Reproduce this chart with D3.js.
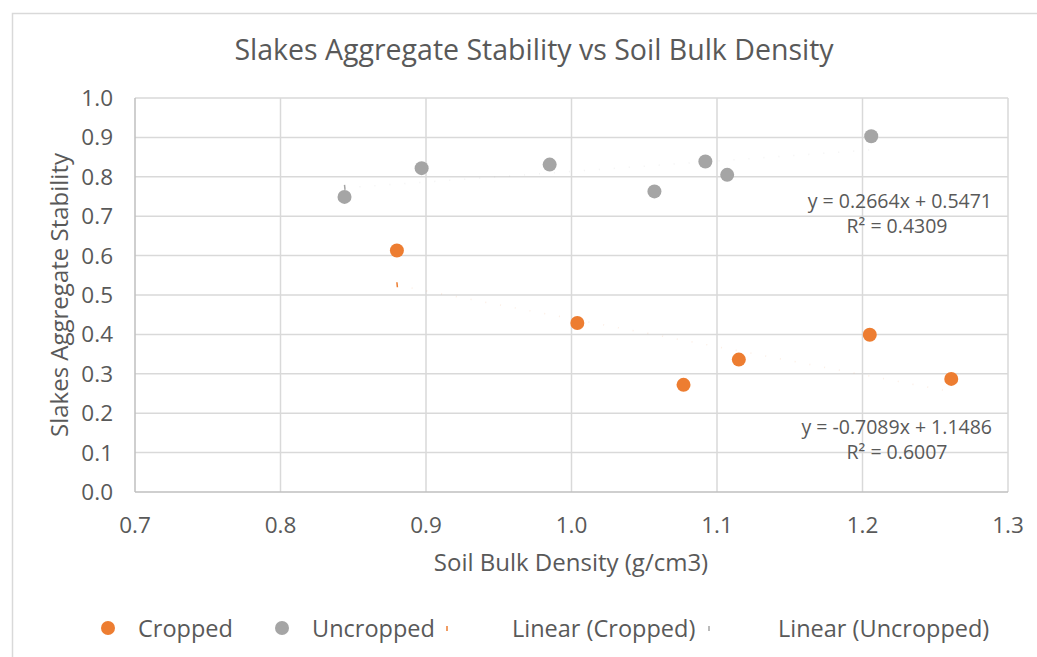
<!DOCTYPE html>
<html><head><meta charset="utf-8">
<script src="https://cdn.jsdelivr.net/npm/d3@7"></script>
<style>body{margin:0;background:#fff}svg text{font-family:"Open Sans",sans-serif;fill:#595959}</style>
</head><body><svg id="c" width="1037" height="657"></svg>
<script>
const croppedX = [0.880, 1.004, 1.077, 1.115, 1.205, 1.261];
const croppedY = [0.613, 0.429, 0.272, 0.336, 0.399, 0.287];
const uncroppedX = [0.844, 0.897, 0.985, 1.057, 1.092, 1.107, 1.206];
const uncroppedY = [0.749, 0.822, 0.831, 0.763, 0.839, 0.805, 0.903];
const xTicks = [0.7, 0.8, 0.9, 1.0, 1.1, 1.2, 1.3];
const yTicks = [0.0, 0.1, 0.2, 0.3, 0.4, 0.5, 0.6, 0.7, 0.8, 0.9, 1.0];
const trendCropped = {m: -0.7089, b: 1.1486, r2: 0.6007};
const trendUncropped = {m: 0.2664, b: 0.5471, r2: 0.4309};
const seriesNames = ["Cropped", "Uncropped", "Linear (Cropped)", "Linear (Uncropped)"];
const colors = {c: "#ed7d31", u: "#a5a5a5"};

const svg = d3.select("#c");
svg.append("rect").attr("x",12.5).attr("y",13.5).attr("width",1030).attr("height",650)
  .attr("fill","none").attr("stroke","#d9d9d9").attr("stroke-width",1.5);

const x = d3.scaleLinear().domain([0.7,1.3]).range([135,1008]);
const y = d3.scaleLinear().domain([0,1]).range([492,98]);

// gridlines
svg.append("g").selectAll("line").data(yTicks.slice(1)).join("line")
  .attr("x1",x(0.7)).attr("x2",x(1.3)).attr("y1",d=>y(d)).attr("y2",d=>y(d))
  .attr("stroke","#d9d9d9").attr("stroke-width",1.5);
svg.append("g").selectAll("line").data(xTicks.slice(1)).join("line")
  .attr("y1",y(0)).attr("y2",y(1)).attr("x1",d=>x(d)).attr("x2",d=>x(d))
  .attr("stroke","#d9d9d9").attr("stroke-width",1.5);
// axes lines
svg.append("line").attr("x1",x(0.7)).attr("x2",x(1.3)).attr("y1",y(0)).attr("y2",y(0)).attr("stroke","#bfbfbf").attr("stroke-width",1.5);
svg.append("line").attr("x1",x(0.7)).attr("x2",x(0.7)).attr("y1",y(0)).attr("y2",y(1)).attr("stroke","#bfbfbf").attr("stroke-width",1.5);

// tick labels
svg.append("g").selectAll("text").data(yTicks).join("text")
  .attr("x",113).attr("y",d=>y(d)+8).attr("text-anchor","end").attr("font-size",22.5)
  .text(d=>d3.format(".1f")(d));
svg.append("g").selectAll("text").data(xTicks).join("text")
  .attr("x",d=>x(d)).attr("y",533).attr("text-anchor","middle").attr("font-size",22.5)
  .text(d=>d3.format(".1f")(d));

// titles
svg.append("text").attr("x",534).attr("y",60).attr("text-anchor","middle").attr("font-size",28.5).text("Slakes Aggregate Stability vs Soil Bulk Density");
svg.append("text").attr("x",571).attr("y",571).attr("text-anchor","middle").attr("font-size",24).text("Soil Bulk Density (g/cm3)");
svg.append("text").attr("transform","translate(68,295) rotate(-90)").attr("text-anchor","middle").attr("font-size",24).text("Slakes Aggregate Stability");

// trendlines (faint dotted)
function trend(xs, t, col){
  const x0 = d3.min(xs), x1 = d3.max(xs);
  svg.append("line").attr("x1",x(x0)).attr("x2",x(x1)).attr("y1",y(t.m*x0+t.b)).attr("y2",y(t.m*x1+t.b))
    .attr("stroke",col).attr("stroke-width",1.5).attr("stroke-dasharray","1,14").attr("opacity",0.12);
  svg.append("line").attr("x1",x(x0)).attr("x2",x(x0)+0.5).attr("y1",y(t.m*x0+t.b)-3).attr("y2",y(t.m*x0+t.b)+2)
    .attr("stroke",col).attr("stroke-width",1.5);
}
trend(croppedX, trendCropped, colors.c);
trend(uncroppedX, trendUncropped, colors.u);

// points
svg.append("g").selectAll("circle").data(uncroppedX.map((v,i)=>[v,uncroppedY[i]])).join("circle")
  .attr("cx",d=>x(d[0])).attr("cy",d=>y(d[1])).attr("r",7).attr("fill",colors.u);
svg.append("g").selectAll("circle").data(croppedX.map((v,i)=>[v,croppedY[i]])).join("circle")
  .attr("cx",d=>x(d[0])).attr("cy",d=>y(d[1])).attr("r",7).attr("fill",colors.c);

// equations
svg.append("text").attr("x",992).attr("y",208).attr("text-anchor","end").attr("font-size",19.5).text(`y = ${trendUncropped.m}x + ${trendUncropped.b}`);
svg.append("text").attr("x",897).attr("y",233).attr("text-anchor","middle").attr("font-size",19.5).text(`R² = ${trendUncropped.r2}`);
svg.append("text").attr("x",992).attr("y",434).attr("text-anchor","end").attr("font-size",19.5).text(`y = ${trendCropped.m}x + ${trendCropped.b}`);
svg.append("text").attr("x",897).attr("y",459).attr("text-anchor","middle").attr("font-size",19.5).text(`R² = ${trendCropped.r2}`);

// legend
const lg = svg.append("g");
lg.append("circle").attr("cx",108).attr("cy",628).attr("r",7).attr("fill",colors.c);
lg.append("text").attr("x",138).attr("y",637).attr("font-size",23.5).text(seriesNames[0]);
lg.append("circle").attr("cx",282).attr("cy",628).attr("r",7).attr("fill",colors.u);
lg.append("text").attr("x",312).attr("y",637).attr("font-size",23.5).text(seriesNames[1]);
lg.append("line").attr("x1",447).attr("x2",447).attr("y1",626).attr("y2",631).attr("stroke",colors.c).attr("stroke-width",1.5);
lg.append("text").attr("x",512).attr("y",637).attr("font-size",23.5).text(seriesNames[2]);
lg.append("line").attr("x1",709).attr("x2",709).attr("y1",626).attr("y2",631).attr("stroke",colors.u).attr("stroke-width",1.5);
lg.append("text").attr("x",778).attr("y",637).attr("font-size",23.5).text(seriesNames[3]);
</script></body></html>
